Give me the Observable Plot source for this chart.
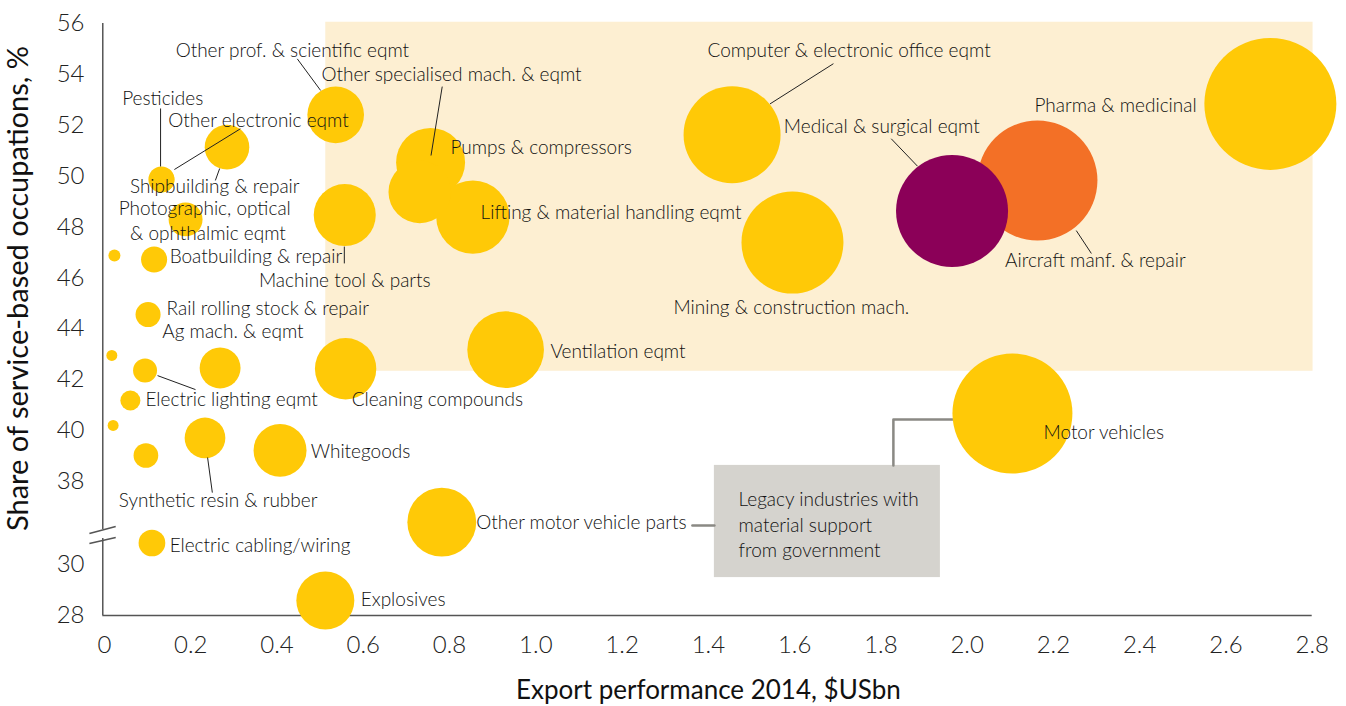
<!DOCTYPE html>
<html>
<head>
<meta charset="utf-8">
<script src="https://cdn.jsdelivr.net/npm/d3@7"></script>
<script src="https://cdn.jsdelivr.net/npm/@observablehq/plot@0.6"></script>
<style>
  html, body { margin: 0; padding: 0; background: #fff; }
  #chart svg { display: block; }
</style>
</head>
<body>
<div id="chart"></div>
<script>
// ---------------- data ----------------
const industries = [
  "Pharma & medicinal", "Aircraft manf. & repair", "Medical & surgical eqmt",
  "Computer & electronic office eqmt", "Mining & construction mach.", "Motor vehicles",
  "Ventilation eqmt", "Lifting & material handling eqmt", "Other specialised mach. & eqmt",
  "Pumps & compressors", "Machine tool & parts", "Other prof. & scientific eqmt",
  "Cleaning compounds", "Whitegoods", "Other motor vehicle parts", "Explosives",
  "Shipbuilding & repair", "Pesticides", "Other electronic eqmt",
  "Photographic, optical & ophthalmic eqmt", "(unlabelled 1)", "Boatbuilding & repair",
  "Rail rolling stock & repair", "(unlabelled 2)", "Electric lighting eqmt",
  "Ag mach. & eqmt", "(unlabelled 3)", "(unlabelled 4)", "Synthetic resin & rubber",
  "(unlabelled 5)", "Electric cabling/wiring"
];
// Export performance 2014, $US bn
const exportBn = [
  2.703, 2.163, 1.965,
  1.455, 1.595, 2.105,
  0.930, 0.854, 0.756,
  0.731, 0.557, 0.536,
  0.559, 0.407, 0.782, 0.512,
  0.284, 0.132, 0.133,
  0.188, 0.023, 0.115,
  0.101, 0.017, 0.094,
  0.268, 0.060, 0.020, 0.233,
  0.096, 0.110
];
// Share of service-based occupations, %
const serviceShare = [
  52.84, 49.83, 48.63,
  51.63, 47.39, 40.67,
  43.18, 48.39, 50.54,
  49.38, 48.47, 52.41,
  42.43, 39.22, 31.67, 28.59,
  51.14, 49.87, 49.86,
  48.30, 46.88, 46.72,
  44.56, 42.95, 42.36,
  42.46, 41.18, 40.20, 39.71,
  39.02, 30.85
];
// relative bubble size (index, largest = 100)
const sizeIndex = [
  100, 82.6, 72.0,
  54.0, 59.7, 82.6,
  33.7, 30.8, 27.3,
  22.5, 22.1, 18.4,
  21.6, 16.1, 27.2, 19.3,
  11.4, 3.9, 3.6,
  6.6, 0.83, 3.9,
  3.6, 0.69, 3.3,
  9.6, 2.3, 0.69, 9.5,
  3.5, 4.1
];
const highlighted = ["Aircraft manf. & repair", "Medical & surgical eqmt"];

const xTickValues = [0, 0.2, 0.4, 0.6, 0.8, 1.0, 1.2, 1.4, 1.6, 1.8, 2.0, 2.2, 2.4, 2.6, 2.8];
const yTickValues = [28, 30, 38, 40, 42, 44, 46, 48, 50, 52, 54, 56];

const xTitle = "Export performance 2014, $USbn";
const yTitle = "Share of service-based occupations, %";
const boxLines = ["Legacy industries with", "material support", "from government"];

// ---------------- broken y axis ----------------
// values below the break are drawn BREAK_SHIFT units higher on the plotted axis
const BREAK_SHIFT = 4.73;
const ty = v => (v < 34 ? v + BREAK_SHIFT : v);
const yTickPos = yTickValues.map(ty);
const yTickLabel = new Map(yTickValues.map(v => [ty(v), String(v)]));

const rows = industries.map((name, i) => ({
  name, exp: exportBn[i], share: serviceShare[i], size: sizeIndex[i]
}));

// ---------------- annotations (positions on the plotted axis) ----------------
const labels = [
  ["Other prof. & scientific eqmt", 0.165, 54.94],
  ["Other specialised mach. & eqmt", 0.503, 53.96],
  ["Pesticides", 0.041, 53.04],
  ["Other electronic eqmt", 0.148, 52.16],
  ["Shipbuilding & repair", 0.059, 49.59],
  ["Photographic, optical", 0.033, 48.72],
  ["& ophthalmic eqmt", 0.059, 47.71],
  ["Boatbuilding & repair", 0.151, 46.84],
  ["Machine tool & parts", 0.358, 45.90],
  ["Rail rolling stock & repair", 0.144, 44.79],
  ["Ag mach. & eqmt", 0.134, 43.87],
  ["Electric lighting eqmt", 0.095, 41.21],
  ["Synthetic resin & rubber", 0.033, 37.25],
  ["Electric cabling/wiring", 0.151, 35.48],
  ["Whitegoods", 0.478, 39.15],
  ["Cleaning compounds", 0.573, 41.22],
  ["Ventilation eqmt", 1.034, 43.08],
  ["Other motor vehicle parts", 0.862, 36.37],
  ["Explosives", 0.594, 33.35],
  ["Pumps & compressors", 0.802, 51.11],
  ["Lifting & material handling eqmt", 0.872, 48.54],
  ["Computer & electronic office eqmt", 1.398, 54.94],
  ["Medical & surgical eqmt", 1.575, 51.95],
  ["Pharma & medicinal", 2.156, 52.78],
  ["Aircraft manf. & repair", 2.088, 46.68],
  ["Mining & construction mach.", 1.319, 44.82],
  ["Motor vehicles", 2.177, 39.92]
].map(([text, x, y]) => ({text, x, y}));

const leaders = [
  [0.447, 54.61, 0.501, 53.37],
  [0.783, 53.52, 0.757, 50.81],
  [0.130, 52.66, 0.130, 50.38],
  [0.315, 51.86, 0.162, 50.26],
  [0.267, 50.30, 0.257, 49.83],
  [0.556, 47.23, 0.556, 46.57],
  [0.123, 42.16, 0.211, 41.61],
  [0.239, 38.94, 0.250, 37.56],
  [1.690, 54.42, 1.543, 52.84],
  [1.824, 51.47, 1.885, 50.39],
  [2.253, 47.86, 2.288, 46.96]
].map(([x1, y1, x2, y2]) => ({x1, y1, x2, y2}));

const boxConnectors = [
  {id: "a", x: 1.363, y: 36.27}, {id: "a", x: 1.414, y: 36.27},
  {id: "b", x: 1.829, y: 38.63}, {id: "b", x: 1.829, y: 40.43}, {id: "b", x: 1.966, y: 40.43}
];

const Y_BOTTOM = 32.73;
const LABEL_FONT = 19;

const plot = Plot.plot({
  width: 1346,
  height: 706,
  marginLeft: 104,
  marginRight: 34.3,
  marginTop: 23,
  marginBottom: 91,
  style: {fontFamily: "Lato, 'Open Sans', sans-serif", fontSize: "18px", background: "#fff", color: "#222", overflow: "visible"},
  x: {domain: [0, 2.8]},
  y: {domain: [Y_BOTTOM, 56]},
  r: {type: "sqrt", domain: [0, 100], range: [0, 66]},
  color: {type: "identity"},
  marks: [
    // high-value zone
    Plot.rect([{}], {x1: 0.513, x2: 2.802, y1: 42.33, y2: 56.05, fill: "#fdefd2"}),
    // axis lines with break
    Plot.ruleY([Y_BOTTOM], {x1: -0.004, x2: 2.8, stroke: "#555", strokeWidth: 1.5}),
    Plot.ruleX([-0.004], {y1: 36.11, y2: 56, stroke: "#555", strokeWidth: 1.5}),
    Plot.ruleX([-0.004], {y1: Y_BOTTOM, y2: 35.76, stroke: "#555", strokeWidth: 1.5}),
    Plot.link([{x1: -0.035, y1: 35.95, x2: 0.026, y2: 36.23}, {x1: -0.035, y1: 35.56, x2: 0.026, y2: 35.80}],
      {x1: "x1", y1: "y1", x2: "x2", y2: "y2", stroke: "#555", strokeWidth: 1.5}),
    // legacy box
    Plot.rect([{}], {x1: 1.414, x2: 1.938, y1: 34.22, y2: 38.63, fill: "#d5d3ce"}),
    Plot.line(boxConnectors, {x: "x", y: "y", z: "id", stroke: "#8a8984", strokeWidth: 2.5, curve: "linear"}),
    Plot.text(boxLines, {x: 1.470, y: (d, i) => [37.29, 36.27, 35.28][i], text: d => d, textAnchor: "start",
      fontSize: LABEL_FONT, fontWeight: 300, fill: "#111"}),
    // bubbles
    Plot.dot(rows, {
      x: "exp", y: d => ty(d.share), r: "size",
      fill: d => d.name === highlighted[0] ? "#f37026" : d.name === highlighted[1] ? "#8b0058" : "#ffc907",
      stroke: null
    }),
    // leaders
    Plot.link(leaders, {x1: "x1", y1: "y1", x2: "x2", y2: "y2", stroke: "#222", strokeWidth: 1}),
    // labels
    Plot.text(labels, {x: "x", y: "y", text: "text", textAnchor: "start", fontSize: LABEL_FONT, fontWeight: 300, fill: "#111"}),
    // axes
    Plot.axisX(xTickValues, {tickSize: 0, tickPadding: 20, fontSize: 24, fontWeight: 300, fill: "#222",
      tickFormat: d => d === 0 ? "0" : d.toFixed(1), label: null}),
    Plot.axisY(yTickPos, {tickSize: 0, tickPadding: 20, fontSize: 24, fontWeight: 300, fill: "#222",
      tickFormat: d => yTickLabel.get(d), label: null}),
    // titles
    Plot.text([xTitle], {frameAnchor: "bottom", dy: 75, text: d => d, textAnchor: "middle", lineAnchor: "middle",
      fontSize: 26, fill: "#111"}),
    Plot.text([yTitle], {frameAnchor: "left", dx: -86, dy: -31, rotate: -90, text: d => d, textAnchor: "middle",
      lineAnchor: "middle", fontSize: 29, fill: "#111"})
  ]
});
document.getElementById("chart").appendChild(plot);
</script>
</body>
</html>
